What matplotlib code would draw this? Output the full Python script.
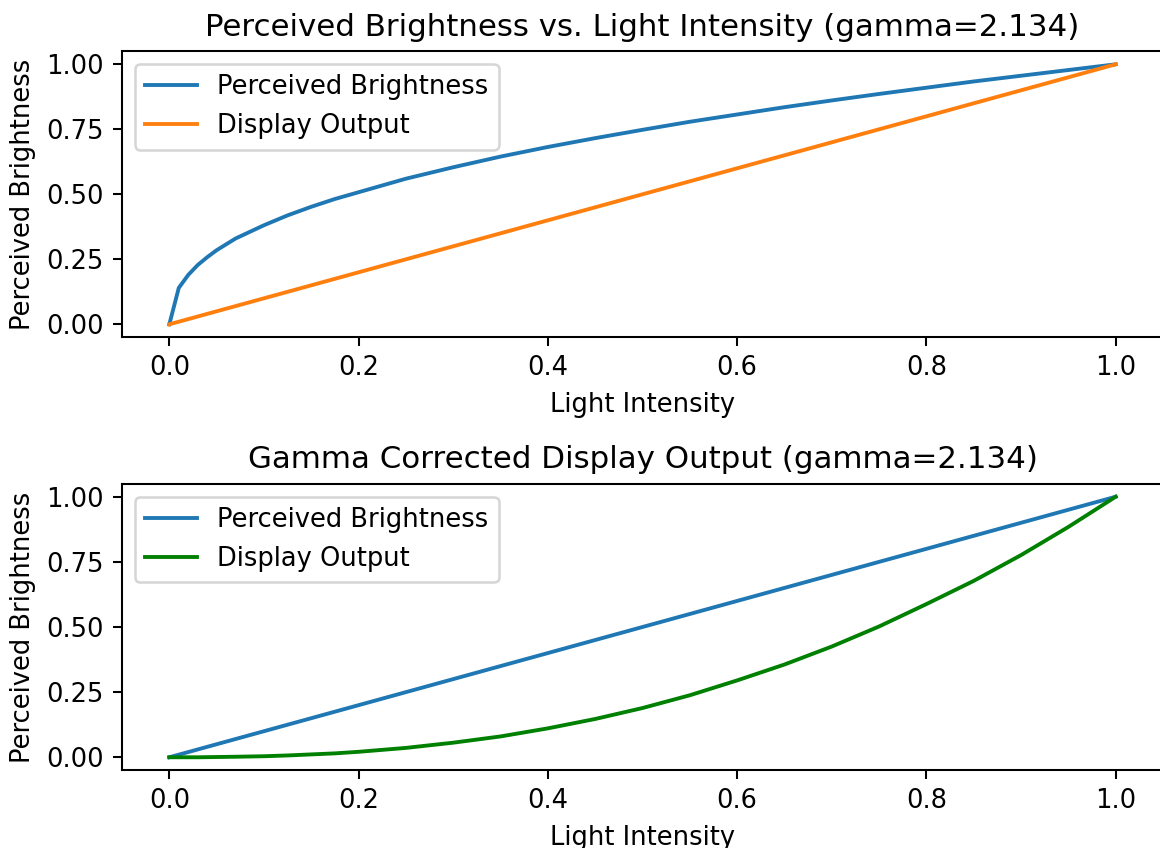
import matplotlib
matplotlib.use("Agg")
import matplotlib.pyplot as plt

gamma_label = "2.134"

# Light intensity sample points
intensity = [0.0, 0.01, 0.02, 0.03, 0.04, 0.05, 0.07, 0.10, 0.125, 0.15, 0.175, 0.20,
             0.25, 0.30, 0.35, 0.40, 0.45, 0.50, 0.55, 0.60, 0.65, 0.70, 0.75,
             0.80, 0.85, 0.90, 0.95, 1.00]

# Top panel: perceived brightness rises steeply at low intensity
perceived_top = [0.0, 0.14, 0.19, 0.228, 0.258, 0.285, 0.33, 0.381, 0.419, 0.452, 0.482, 0.508,
                 0.56, 0.604, 0.645, 0.682, 0.716, 0.748, 0.779, 0.807, 0.835, 0.861, 0.886,
                 0.91, 0.934, 0.956, 0.978, 1.0]
display_top = list(intensity)

# Bottom panel: linear perception against gamma-corrected display output
perceived_bottom = list(intensity)
display_bottom = [0.0, 0.0, 0.0, 0.0, 0.0005, 0.001, 0.002, 0.004, 0.007, 0.011, 0.015, 0.021,
                  0.036, 0.056, 0.08, 0.111, 0.147, 0.189, 0.238, 0.295, 0.356, 0.425, 0.502,
                  0.588, 0.677, 0.776, 0.884, 1.0]

yticks = [0.0, 0.25, 0.5, 0.75, 1.0]
xticks = [0.0, 0.2, 0.4, 0.6, 0.8, 1.0]

W, H, DPI = 1160, 848, 185
fig = plt.figure(figsize=(W / DPI, H / DPI), dpi=DPI)

ax1 = fig.add_axes([122 / W, 1 - 337.3 / H, 1041 / W, 286 / H])
ax2 = fig.add_axes([122 / W, 1 - 770.3 / H, 1041 / W, 286.6 / H])

ax1.plot(intensity, perceived_top, color="#1f77b4", label="Perceived Brightness")
ax1.plot(intensity, display_top, color="#ff7f0e", label="Display Output")
ax1.set_title(f"Perceived Brightness vs. Light Intensity (gamma={gamma_label})")

ax2.plot(intensity, perceived_bottom, color="#1f77b4", label="Perceived Brightness")
ax2.plot(intensity, display_bottom, color="green", label="Display Output")
ax2.set_title(f"Gamma Corrected Display Output (gamma={gamma_label})")

for ax in (ax1, ax2):
    ax.set_xlim(-0.05, 1.05)
    ax.set_ylim(-0.05, 1.05)
    ax.set_xlabel("Light Intensity")
    ax.set_ylabel("Perceived Brightness")
    ax.set_xticks(xticks)
    ax.set_yticks(yticks)
    ax.legend(loc="upper left")

fig.savefig("out.png", dpi=DPI)
